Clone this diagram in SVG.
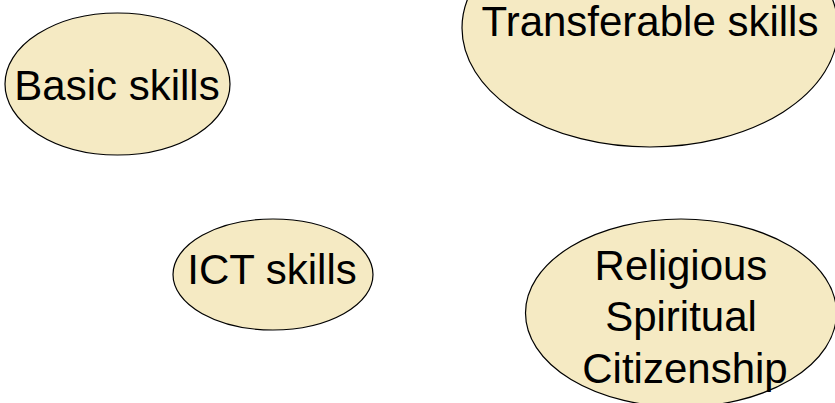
<svg xmlns="http://www.w3.org/2000/svg" width="835" height="403" viewBox="0 0 835 403">
<style>
.n{fill:#F5EAC3;stroke:#000;stroke-width:1.2}
.t{font-family:"Liberation Sans",Arial,sans-serif;font-size:42px;fill:#000;text-anchor:middle}
</style>
<rect width="835" height="403" fill="#fff"/>
<g id="connectors"/>
<g id="transferable">
<ellipse class="n" cx="650" cy="28" rx="188" ry="119"/>
<text class="t" x="650" y="36">Transferable skills</text>
</g>
<g id="basic">
<ellipse class="n" cx="117.5" cy="84" rx="112.5" ry="71"/>
<text class="t" x="117" y="100">Basic skills</text>
</g>
<g id="ict">
<ellipse class="n" cx="273" cy="274.5" rx="100" ry="55.5"/>
<text class="t" x="272" y="284">ICT skills</text>
</g>
<g id="religious">
<ellipse class="n" cx="681" cy="313" rx="155.5" ry="94"/>
<text class="t" x="681" y="280">Religious</text>
<text class="t" x="681" y="331">Spiritual</text>
<text class="t" x="685" y="383">Citizenship</text>
</g>
</svg>
